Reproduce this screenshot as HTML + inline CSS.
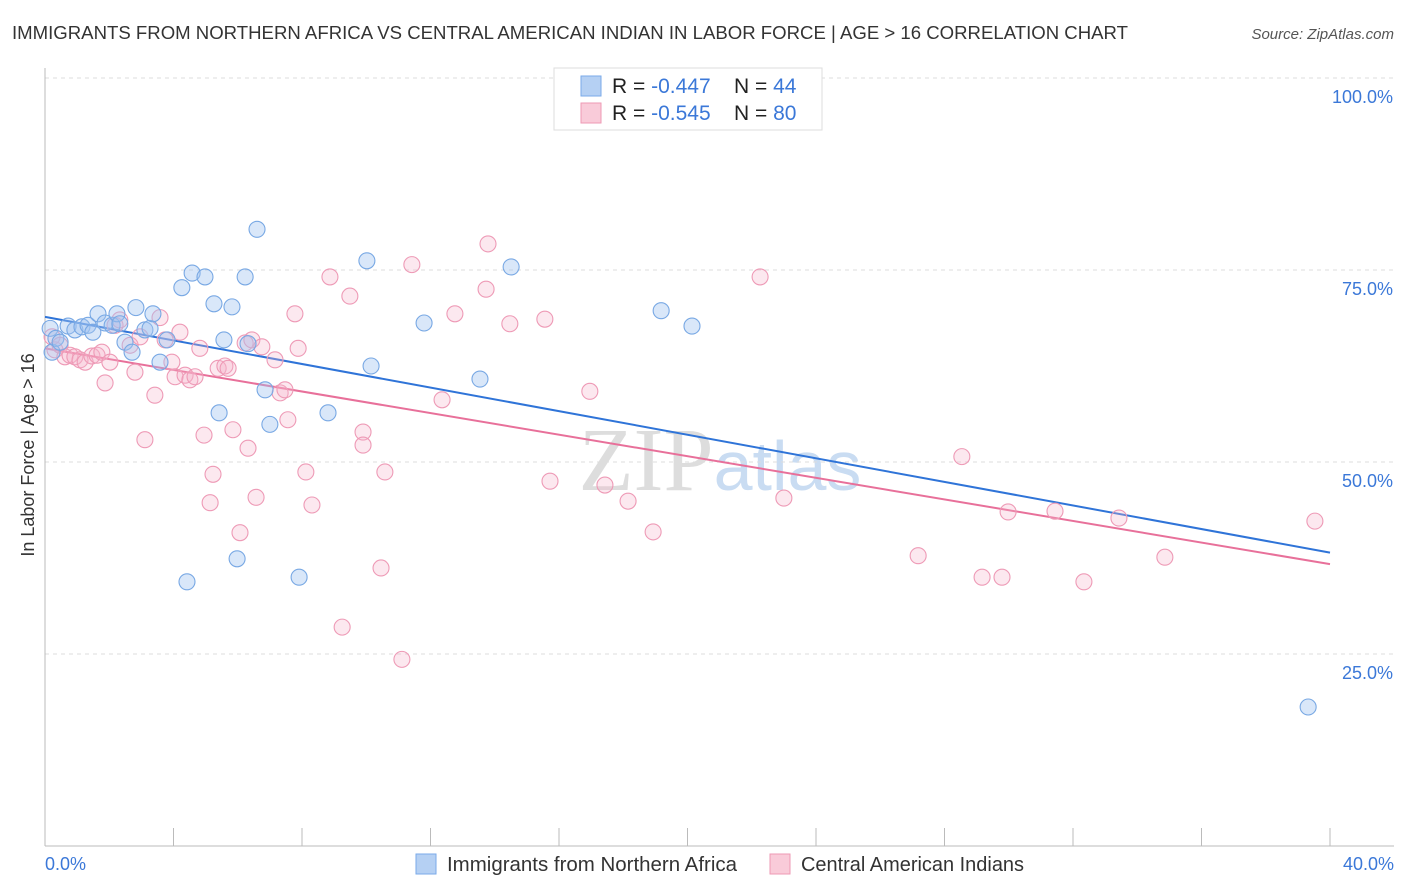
<!DOCTYPE html>
<html><head><meta charset="utf-8">
<style>
body{margin:0;background:#fff;font-family:"Liberation Sans",sans-serif;}
svg{display:block}
</style></head><body>
<svg id="c" width="1406" height="892">
<text x="12" y="39" font-size="18" fill="#333" textLength="1116" lengthAdjust="spacingAndGlyphs">IMMIGRANTS FROM NORTHERN AFRICA VS CENTRAL AMERICAN INDIAN IN LABOR FORCE | AGE &gt; 16 CORRELATION CHART</text>
<text x="1394" y="39" font-size="15" fill="#555" font-style="italic" text-anchor="end">Source: ZipAtlas.com</text>
<text x="720" y="490" font-size="90" fill="#ddd" text-anchor="middle" font-family="Liberation Serif,serif">ZIP<tspan fill="#c9dcf2" font-family="Liberation Sans,sans-serif" font-size="70">atlas</tspan></text>
<g id="grid"></g><g id="axes"></g><g id="lines"></g><g id="pts"></g>
<text transform="translate(34,455) rotate(-90)" font-size="18" fill="#333" text-anchor="middle">In Labor Force | Age &gt; 16</text>
<text x="45" y="870" font-size="18" fill="#3b78d8">0.0%</text>
<text x="1394" y="870" font-size="18" fill="#3b78d8" text-anchor="end">40.0%</text>
<g>
<rect x="554" y="68" width="268" height="62" fill="#fff" stroke="#ddd"/>
<rect x="581" y="76" width="20" height="20" fill="#b5d0f3" stroke="#7aaae8"/>
<rect x="581" y="103" width="20" height="20" fill="#f9cbd9" stroke="#ee9ab4"/>
<text x="612" y="93" font-size="21" fill="#222">R = <tspan fill="#3b78d8">-0.447</tspan></text>
<text x="734" y="93" font-size="21" fill="#222">N = <tspan fill="#3b78d8">44</tspan></text>
<text x="612" y="120" font-size="21" fill="#222">R = <tspan fill="#3b78d8">-0.545</tspan></text>
<text x="734" y="120" font-size="21" fill="#222">N = <tspan fill="#3b78d8">80</tspan></text>
</g>
<g>
<rect x="416" y="854" width="20" height="20" fill="#b5d0f3" stroke="#7aaae8"/>
<text x="447" y="871" font-size="20" fill="#333" textLength="290" lengthAdjust="spacingAndGlyphs">Immigrants from Northern Africa</text>
<rect x="770" y="854" width="20" height="20" fill="#f9cbd9" stroke="#ee9ab4"/>
<text x="801" y="871" font-size="20" fill="#333" textLength="223" lengthAdjust="spacingAndGlyphs">Central American Indians</text>
</g>
</svg>
<script>
const yTicks=[25,50,75,100];
const yTickLabels=["25.0%","50.0%","75.0%","100.0%"];
const xTicks=[4,8,12,16,20,24,28,32,36,40];
const blueX=[0.16,0.22,0.34,0.47,0.72,0.93,1.15,1.34,1.49,1.65,1.87,2.09,2.24,2.33,2.49,2.71,2.83,3.11,3.27,3.36,3.58,3.80,4.26,4.42,4.58,4.98,5.26,5.42,5.57,5.82,5.98,6.23,6.32,6.60,6.85,7.00,7.91,8.81,10.02,10.15,11.80,13.54,14.51,19.18,20.14,39.32];
const blueY=[67.4,64.3,66.1,65.6,67.7,67.2,67.6,67.8,66.9,69.3,68.1,67.8,69.3,68.0,65.6,64.3,70.1,67.2,67.4,69.3,63.0,65.9,72.7,34.4,74.6,74.1,70.6,56.4,65.9,70.2,37.4,74.1,65.4,80.3,59.4,54.9,35.0,56.4,76.2,62.5,68.1,60.8,75.4,69.7,67.7,18.1];
const pinkX=[0.22,0.31,0.47,0.62,0.78,0.93,1.09,1.25,1.46,1.62,1.77,1.87,2.02,2.18,2.33,2.65,2.80,2.96,3.11,3.42,3.58,3.74,3.95,4.05,4.20,4.36,4.51,4.67,4.82,4.95,5.14,5.23,5.39,5.60,5.70,5.85,6.07,6.23,6.32,6.44,6.57,6.75,7.16,7.32,7.47,7.56,7.78,7.88,8.12,8.31,8.87,9.25,9.49,9.90,9.90,10.46,10.58,11.11,11.42,12.36,12.76,13.73,13.79,14.47,15.56,15.72,16.96,17.43,18.15,18.93,22.26,23.00,27.18,28.54,29.17,29.79,29.98,31.44,32.34,33.43,34.86,39.53];
const pinkY=[66.3,64.6,65.2,63.7,63.9,63.7,63.3,63.0,63.8,63.9,64.3,60.3,63.0,67.8,68.5,65.2,61.7,66.3,52.9,58.7,68.8,65.9,63.0,61.1,66.9,61.3,60.7,61.1,64.8,53.5,44.7,48.4,62.2,62.5,62.2,54.2,40.8,65.5,51.8,65.9,45.4,65.0,63.3,59.0,59.4,55.5,69.3,64.8,48.7,44.4,74.1,28.5,71.6,53.9,52.2,36.2,48.7,24.3,75.7,58.1,69.3,72.5,78.4,68.0,68.6,47.5,59.2,47.0,44.9,40.9,74.1,45.3,37.8,50.7,35.0,35.0,43.5,43.6,34.4,42.7,37.6,42.3];
const blueTrend=[68.9,38.2];
const pinkTrend=[64.8,36.7];
const NS="http://www.w3.org/2000/svg";
const sx=v=>45+v*32.125, sy=v=>846-v*7.68;
function mk(t,a,p){const e=document.createElementNS(NS,t);for(const k in a)e.setAttribute(k,a[k]);p.appendChild(e);return e;}
const grid=document.getElementById('grid'),axes=document.getElementById('axes');
yTicks.forEach((t,i)=>{
 const l=mk('line',{x1:45,x2:1394,y1:sy(t),y2:sy(t),stroke:'#ddd','stroke-dasharray':'4,4'},grid);
 
 
 const tx=mk('text',{x:1393,y:sy(t)+25,'font-size':18,fill:'#3b78d8','text-anchor':'end'},axes);
 tx.textContent=yTickLabels[i];
 
 
});
const xa=mk('line',{x1:45,x2:1394,y1:846,y2:846,stroke:'#bbb'},axes);


const ya=mk('line',{x1:45,x2:45,y1:68,y2:846,stroke:'#bbb'},axes);


xTicks.forEach(t=>{
 const l=mk('line',{x1:sx(t),x2:sx(t),y1:828,y2:846,stroke:'#bbb'},axes);
 
 
});
const pts=document.getElementById('pts');
function series(X,Y,fill,stroke,name){X.forEach((x,i)=>{
 const c=mk('circle',{cx:sx(x),cy:sy(Y[i]),r:8,fill:fill,stroke:stroke,'stroke-width':1.1},pts);
 
 
});}
series(pinkX,pinkY,'rgba(246,180,202,0.3)','#ee9ab6','central-american-indian-point');
series(blueX,blueY,'rgba(160,196,240,0.4)','#78a8e4','northern-africa-point');
const lines=document.getElementById('lines');
const bl=mk('line',{x1:sx(0),y1:sy(blueTrend[0]),x2:sx(40),y2:sy(blueTrend[1]),stroke:'#2f74d8','stroke-width':2},lines);


const pl=mk('line',{x1:sx(0),y1:sy(pinkTrend[0]),x2:sx(40),y2:sy(pinkTrend[1]),stroke:'#e8709a','stroke-width':2},lines);


</script>
</body></html>
